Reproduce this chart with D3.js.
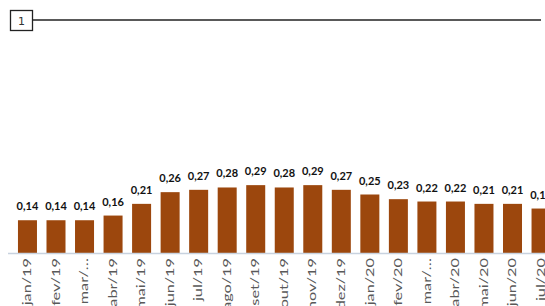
<!DOCTYPE html>
<html>
<head>
<meta charset="utf-8">
<script src="https://cdn.jsdelivr.net/npm/d3@7"></script>
<style>
  body { margin: 0; background: #fff; }
  svg { display: block; overflow: hidden; }
</style>
</head>
<body>
<div class="bar-chart"></div>
<script>
// ---- data
var months = ["jan/19","fev/19","mar/19","abr/19","mai/19","jun/19","jul/19","ago/19","set/19",
              "out/19","nov/19","dez/19","jan/20","fev/20","mar/20","abr/20","mai/20","jun/20","jul/20"];
var tickLabels = ["jan/19","fev/19","mar/…","abr/19","mai/19","jun/19","jul/19","ago/19","set/19",
                  "out/19","nov/19","dez/19","jan/20","fev/20","mar/…","abr/20","mai/20","jun/20","jul/20"];
var values = [0.14,0.14,0.14,0.16,0.21,0.26,0.27,0.28,0.29,0.28,0.29,0.27,0.25,0.23,0.22,0.22,0.21,0.21,0.19];

var W = 545, H = 306;

var svg = d3.select(".bar-chart")
  .append("svg")
    .attr("width", W)
    .attr("height", H);

// ---- header box and rule
svg.append("rect")
  .attr("x", 10.5).attr("y", 10.5)
  .attr("width", 22).attr("height", 20)
  .attr("fill", "#fff")
  .attr("stroke", "#222")
  .attr("stroke-width", 1.3);
svg.append("text")
  .attr("x", 18).attr("y", 24.5)
  .attr("font-family", "DejaVu Sans, sans-serif")
  .attr("font-size", 11)
  .attr("fill", "#333")
  .text("1");
svg.append("line")
  .attr("x1", 33).attr("x2", 541)
  .attr("y1", 20).attr("y2", 20)
  .attr("stroke", "#222")
  .attr("stroke-width", 1.5);

// ---- scales
var x = d3.scaleBand()
  .domain(months)
  .range([13.2, 555.3])
  .paddingInner(0.334)
  .paddingOuter(0.167);

var y = d3.scaleLinear()
  .domain([0, 1])
  .range([253, 19]);

// ---- bars
svg.selectAll(".bars")
  .data(values)
  .enter()
  .append("rect")
    .attr("class", "bars")
    .attr("x", function(d, i) { return x(months[i]); })
    .attr("y", function(d) { return y(d); })
    .attr("width", x.bandwidth())
    .attr("height", function(d) { return y(0) - y(d); })
    .attr("fill", "#9c470d");

// ---- value labels
svg.selectAll(".val")
  .data(values)
  .enter()
  .append("text")
    .attr("class", "val")
    .attr("x", function(d, i) { return x(months[i]) + x.bandwidth() / 2; })
    .attr("y", function(d) { return y(d) - 10; })
    .attr("text-anchor", "middle")
    .attr("font-family", "Lato, sans-serif")
    .attr("font-weight", "bold")
    .attr("font-size", 11)
    .attr("fill", "#111")
    .text(function(d) { return d3.format(".2f")(d).replace(".", ","); });

// ---- x axis
var xAxis = svg.append("g")
  .attr("transform", "translate(0," + y(0) + ")")
  .call(d3.axisBottom(x).tickSize(0).tickPadding(0)
    .tickFormat(function(d, i) { return tickLabels[i]; }));

xAxis.select(".domain")
  .attr("d", "M8,0.5H545")
  .attr("stroke", "#c8d2df")
  .attr("stroke-width", 1.5);

// labels in the source are stretched along their length
xAxis.selectAll("text")
  .attr("font-family", "Lato, sans-serif")
  .attr("font-size", 10.5)
  .attr("fill", "#595959")
  .attr("transform", "translate(0,5)scale(1,1.55)rotate(-90)")
  .attr("x", 0)
  .attr("y", 0)
  .attr("dy", "0.35em")
  .style("text-anchor", "end");
</script>
</body>
</html>
